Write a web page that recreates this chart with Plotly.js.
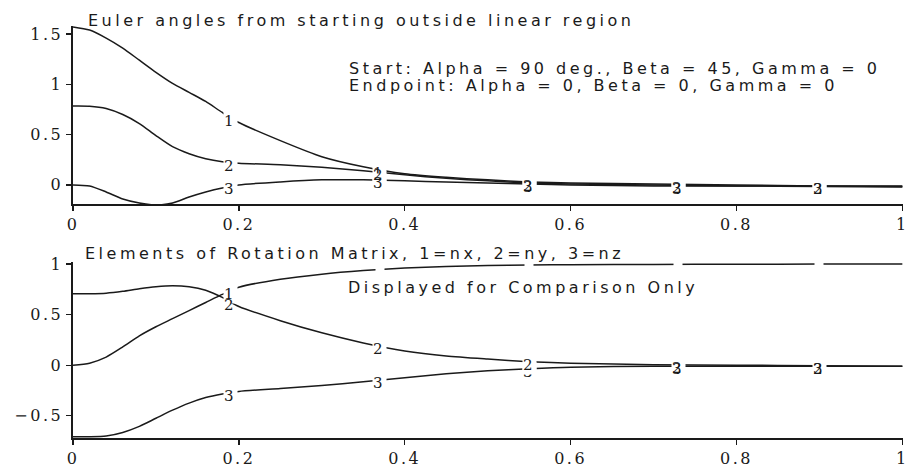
<!DOCTYPE html>
<html><head><meta charset="utf-8">
<script src="https://cdn.plot.ly/plotly-3.0.1.min.js"></script>
<style>
html,body{margin:0;padding:0;background:#fff;}
#chart{width:908px;height:473px;}
.annotation-text{letter-spacing:3.5px;}
.xtick text,.x2tick text,.ytick text,.y2tick text{letter-spacing:2.5px;}
</style></head><body><div id="chart"></div>
<script>
// ---- data ----
const t = [0,0.02,0.04,0.06,0.08,0.1,0.12,0.14,0.16,0.18,0.2,0.25,0.3,0.35,0.4,0.45,0.5,0.55,0.6,0.7,0.8,0.9,1.0];
// Euler angles (top)
const alpha = [1.571,1.54,1.46,1.36,1.24,1.12,1.01,0.92,0.83,0.72,0.62,0.44,0.28,0.18,0.11,0.075,0.05,0.03,0.02,0.01,0.0,-0.01,-0.01];
const beta  = [0.785,0.783,0.76,0.70,0.61,0.49,0.38,0.31,0.26,0.23,0.215,0.20,0.175,0.14,0.10,0.065,0.04,0.02,0.01,0.0,-0.01,-0.01,-0.015];
const gamma = [0,-0.01,-0.07,-0.14,-0.18,-0.2,-0.18,-0.12,-0.07,-0.03,0.0,0.03,0.05,0.05,0.04,0.03,0.02,0.01,0.0,-0.01,-0.01,-0.015,-0.02];
// Rotation matrix elements (bottom)
const nx = [0,0.02,0.08,0.18,0.29,0.38,0.46,0.54,0.62,0.70,0.77,0.85,0.90,0.935,0.96,0.975,0.985,0.99,0.993,0.996,0.998,0.999,1.0];
const ny = [0.707,0.707,0.712,0.73,0.755,0.775,0.785,0.775,0.74,0.67,0.58,0.44,0.32,0.22,0.14,0.09,0.06,0.035,0.02,0.005,0,-0.005,-0.01];
const nz = [-0.707,-0.707,-0.70,-0.665,-0.605,-0.525,-0.445,-0.375,-0.32,-0.285,-0.26,-0.23,-0.2,-0.165,-0.125,-0.085,-0.055,-0.035,-0.02,-0.01,-0.01,-0.01,-0.01];
// curve label positions and names
const labelX = [0.19,0.37,0.55,0.73,0.9];
const curveNames = ['1','2','3'];
// ticks
const xTickVals = [0,0.2,0.4,0.6,0.8,1];
const xTickText = ['0','0.2','0.4','0.6','0.8','1'];
const y1TickVals = [0,0.5,1,1.5];
const y1TickText = ['0','0.5','1','1.5'];
const y2TickVals = [-0.5,0,0.5,1];
const y2TickText = ['\u22120.5','0','0.5','1'];
// texts
const title1 = 'Euler angles from starting outside linear region';
const startText = 'Start: Alpha = 90 deg., Beta = 45, Gamma = 0';
const endText = 'Endpoint: Alpha = 0, Beta = 0, Gamma = 0';
const title2 = 'Elements of Rotation Matrix, 1=nx, 2=ny, 3=nz';
const noteText = 'Displayed for Comparison Only';

// ---- layout constants ----
const W = 908, H = 473, L = 73, R = 5, T = 26, B = 35;
const PW = W - L - R, PH = H - T - B;
const px = v => (v - L) / PW;          // pixel x -> paper
const py = v => (H - B - v) / PH;      // pixel y -> paper

function interp(xs, ys, x){
  for (let i = 0; i < xs.length - 1; i++) {
    if (x >= xs[i] && x <= xs[i+1]) {
      const f = (x - xs[i]) / (xs[i+1] - xs[i]);
      return ys[i] + f * (ys[i+1] - ys[i]);
    }
  }
  return ys[ys.length - 1];
}

const lineStyle = {color:'#1a1a1a', width:1.5, shape:'spline', smoothing:0.7};
const traces = [];
[alpha, beta, gamma].forEach((ys,i)=>traces.push({x:t, y:ys, xaxis:'x', yaxis:'y', mode:'lines', line:lineStyle, name:curveNames[i], hoverinfo:'skip'}));
[nx, ny, nz].forEach((ys,i)=>traces.push({x:t, y:ys, xaxis:'x2', yaxis:'y2', mode:'lines', line:lineStyle, name:curveNames[i], hoverinfo:'skip'}));

const textFont = {family:'DejaVu Sans', size:16, color:'#1a1a1a'};
const annotations = [
  {text:title1, xref:'paper', yref:'paper', x:px(86), y:py(21), xanchor:'left', yanchor:'middle', showarrow:false, font:textFont},
  {text:startText, xref:'paper', yref:'paper', x:px(347), y:py(69), xanchor:'left', yanchor:'middle', showarrow:false, font:textFont},
  {text:endText, xref:'paper', yref:'paper', x:px(347), y:py(85), xanchor:'left', yanchor:'middle', showarrow:false, font:textFont},
  {text:title2, xref:'paper', yref:'paper', x:px(83), y:py(253), xanchor:'left', yanchor:'middle', showarrow:false, font:textFont},
  {text:noteText, xref:'paper', yref:'paper', x:px(346), y:py(287), xanchor:'left', yanchor:'middle', showarrow:false, font:textFont}
];
const labFont = {family:'DejaVu Serif', size:15, color:'#1a1a1a'};

function addLabels(sets, xr, yr, hideFirstAfter){
  labelX.forEach((lx,k)=>{
    const vals = sets.map(ys=>interp(t,ys,lx));
    // draw order: 1, 3, 2 so that where the curves merge the "2" overprints the others
    [0,2,1].forEach(i=>{
      const y = vals[i];
      if (hideFirstAfter && i === 0 && k > 0) {
        annotations.push({text:'\u00a0', xref:xr, yref:yr, x:lx, y:y, showarrow:false, width:8, height:6, bgcolor:'#ffffff', borderpad:0, font:labFont});
        return;
      }
      const merged = (i === 1 && (Math.abs(vals[1]-vals[2]) < 0.04 || Math.abs(vals[1]-vals[0]) < 0.15));
      const hiddenOne = (!hideFirstAfter && i === 0 && k > 1);
      annotations.push({text:curveNames[i], xref:xr, yref:yr, x:lx, y:y, yshift:-3, showarrow:false,
        font:hiddenOne ? Object.assign({}, labFont, {color:'rgba(0,0,0,0)'}) : labFont,
        bgcolor: merged ? 'rgba(255,255,255,0)' : '#ffffff', borderpad:0});
    });
  });
}
addLabels([alpha, beta, gamma], 'x', 'y', false);
addLabels([nx, ny, nz], 'x2', 'y2', true);

const axisCommon = {showline:true, linecolor:'#1a1a1a', linewidth:1.6, ticks:'outside', ticklen:5, tickwidth:1.3, tickcolor:'#1a1a1a',
  showgrid:false, zeroline:false, fixedrange:true, ticklabeloverflow:'allow',
  tickfont:{family:'DejaVu Serif', size:16, color:'#1a1a1a'}};

const layout = {
  width:W, height:H, margin:{l:L, r:R, t:T, b:B}, paper_bgcolor:'#ffffff', plot_bgcolor:'#ffffff', showlegend:false,
  xaxis:Object.assign({}, axisCommon, {domain:[0,1], range:[0,1.0008], anchor:'y', tickmode:'array', tickvals:xTickVals, ticktext:xTickText}),
  yaxis:Object.assign({}, axisCommon, {domain:[py(204),1], range:[-0.19,1.58], anchor:'x', tickmode:'array', tickvals:y1TickVals, ticktext:y1TickText}),
  xaxis2:Object.assign({}, axisCommon, {domain:[0,1], range:[0,1.0008], anchor:'y2', tickmode:'array', tickvals:xTickVals, ticktext:xTickText}),
  yaxis2:Object.assign({}, axisCommon, {domain:[0,py(262)], range:[-0.72,1.02], anchor:'x2', tickmode:'array', tickvals:y2TickVals, ticktext:y2TickText}),
  annotations:annotations
};
Plotly.newPlot('chart', traces, layout, {staticPlot:true, displayModeBar:false});
</script></body></html>
